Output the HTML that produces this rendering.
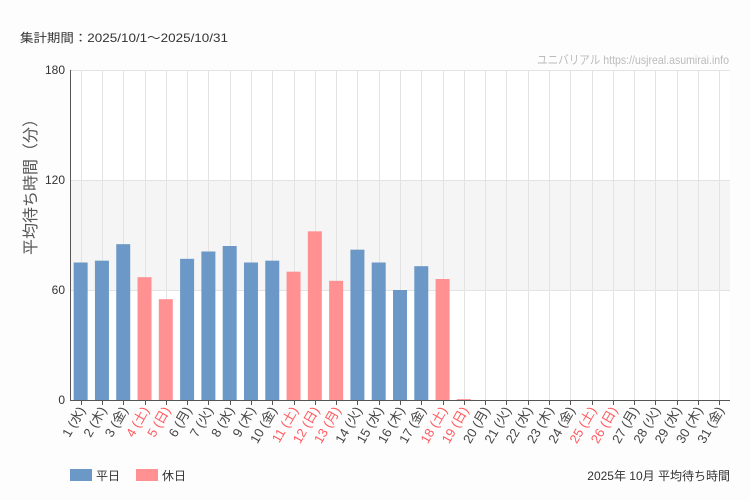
<!DOCTYPE html>
<html><head><meta charset="utf-8"><style>
body{margin:0;background:#fcfdfc;}
svg{display:block;font-family:"Liberation Sans","Noto Sans CJK JP",sans-serif;}
</style></head><body>
<svg width="750" height="500" xmlns="http://www.w3.org/2000/svg">
<rect width="750" height="500" fill="#fcfdfc"/>
<text x="20" y="42" font-size="12" fill="#333" textLength="208" lengthAdjust="spacingAndGlyphs">集計期間：2025/10/1〜2025/10/31</text>
<text x="729" y="64" font-size="12" fill="#bbb" text-anchor="end" textLength="192" lengthAdjust="spacingAndGlyphs">ユニバリアル  https://usjreal.asumirai.info</text>
<rect x="70" y="70" width="660" height="330" fill="#fff"/>
<rect x="70" y="180" width="660" height="110" fill="#f4f5f4"/>
<g stroke="#e3e3e3" stroke-width="1" id="g"></g>
<line x1="70" y1="70.5" x2="730" y2="70.5" stroke="#e3e3e3"/>
<line x1="70" y1="180.5" x2="730" y2="180.5" stroke="#e3e3e3"/>
<line x1="70" y1="290.5" x2="730" y2="290.5" stroke="#e3e3e3"/>
<g id="bars"></g>
<line x1="70.5" y1="70" x2="70.5" y2="400" stroke="#555"/>
<line x1="70" y1="400.5" x2="730" y2="400.5" stroke="#555"/>
<g font-size="12" fill="#333" text-anchor="end">
<text x="65" y="74">180</text><text x="65" y="184">120</text><text x="65" y="294">60</text><text x="65" y="404">0</text>
</g>
<text transform="translate(36,183) rotate(-90)" font-size="16" fill="#555" text-anchor="middle">平均待ち時間（分）</text>
<g id="lbl" font-size="13"></g>
<rect x="70" y="469" width="22" height="12" fill="#6b98c6"/>
<text x="96" y="480" font-size="12" fill="#333">平日</text>
<rect x="136" y="469" width="22" height="12" fill="#ff9193"/>
<text x="162" y="480" font-size="12" fill="#333">休日</text>
<text x="730" y="480" font-size="12" fill="#333" text-anchor="end">2025年 10月 平均待ち時間</text>
</svg>
<script>
var v=[75,76,85,67,55,77,81,84,75,76,70,92,65,82,75,60,73,66,0.5];
var hol=[4,5,11,12,13,18,19,25,26];
var dw=["水","木","金","土","日","月","火"];
var ns="http://www.w3.org/2000/svg";
var g=document.getElementById("g"),b=document.getElementById("bars"),l=document.getElementById("lbl");
var sw=660/31;
for(var i=0;i<31;i++){
 var cx=70+sw*(i+0.5),d=i+1,h=hol.indexOf(d)>=0;
 var ln=document.createElementNS(ns,"line");
 ln.setAttribute("x1",Math.round(cx)+.5);ln.setAttribute("x2",Math.round(cx)+.5);ln.setAttribute("y1",70);ln.setAttribute("y2",400);g.appendChild(ln);
 var tk=document.createElementNS(ns,"line");
 tk.setAttribute("x1",Math.round(cx)+.5);tk.setAttribute("x2",Math.round(cx)+.5);tk.setAttribute("y1",400);tk.setAttribute("y2",405);tk.setAttribute("stroke","#555");l.appendChild(tk);
 if(i<v.length){var r=document.createElementNS(ns,"rect"),hh=v[i]*110/60;
 r.setAttribute("x",cx-7);r.setAttribute("width",14);r.setAttribute("y",400-hh);r.setAttribute("height",hh);
 r.setAttribute("fill",h?"#ff9193":"#6b98c6");b.appendChild(r);}
 var t=document.createElementNS(ns,"text");
 t.setAttribute("transform","translate("+(cx+5)+",410) rotate(-60)");
 t.setAttribute("text-anchor","end");t.setAttribute("fill",h?"#ff5a5f":"#444");
 t.textContent=d+" ("+dw[i%7]+")";l.appendChild(t);
}
</script>
</body></html>
